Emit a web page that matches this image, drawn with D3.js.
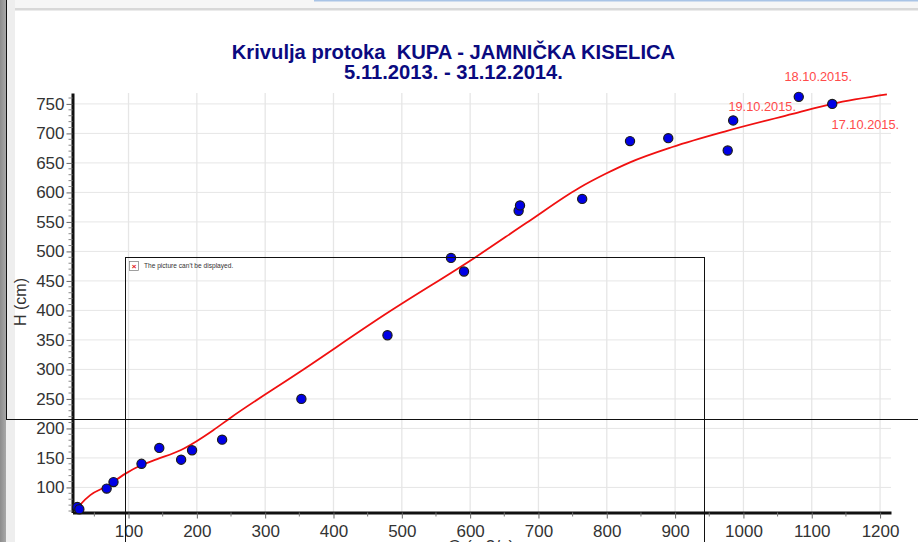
<!DOCTYPE html>
<html>
<head>
<meta charset="utf-8">
<script src="https://cdn.jsdelivr.net/npm/d3@7"></script>
<style>
body { margin: 0; background: #fff; overflow: hidden; }
text { font-family: "Liberation Sans", Arial, sans-serif; }
</style>
</head>
<body>
<div id="chart"></div>
<script>
// rating curve: Q on x, H on y
const pointQ = [25, 28, 68, 78, 119, 145, 177, 193, 237, 353, 479, 572, 591, 671, 673, 764, 834, 890, 977, 985, 1081, 1130];
const pointH = [67, 63, 98, 109, 140, 167, 147, 163, 181, 250, 358, 489, 466, 569, 578, 589, 687, 692, 671, 722, 762, 750];

const curveQ = [26, 32, 44, 68, 95, 119, 142, 176, 199, 224, 248, 351, 478, 609, 682, 760, 799, 834, 896, 975, 1072, 1130, 1210];
const curveH = [65, 74, 87, 102, 123, 138, 148, 163, 178, 197, 217, 296, 395, 491, 548, 608, 632, 651, 677, 704, 733, 750, 766];

const xTicks = [100, 200, 300, 400, 500, 600, 700, 800, 900, 1000, 1100, 1200];
const yTicks = [100, 150, 200, 250, 300, 350, 400, 450, 500, 550, 600, 650, 700, 750];
const xMinor = d3.range(50, 1201, 50);
const yMinor = d3.range(60, 761, 10);

const dateLabels = ["18.10.2015.", "19.10.2015.", "17.10.2015."];
const dateQ = [1060, 978, 1129];
const dateH = [789, 738, 708];

const titleLines = ["Krivulja protoka\u00a0\u00a0KUPA - JAMNIČKA KISELICA", "5.11.2013. - 31.12.2014."];

const width = 918, height = 542;
const plot = { left: 72.5, right: 891, top: 93, bottom: 512.5 };

const svg = d3.select("#chart").append("svg")
    .attr("width", width)
    .attr("height", height)
    .style("display", "block");

// document window behind the chart
const grad = svg.append("defs").append("linearGradient").attr("id", "side");
grad.append("stop").attr("offset", "0%").attr("stop-color", "#8c8c8c");
grad.append("stop").attr("offset", "100%").attr("stop-color", "#a8a8a8");
svg.append("rect").attr("width", 6).attr("height", height).attr("fill", "url(#side)");
svg.append("rect").attr("x", 6).attr("width", width).attr("height", 9).attr("fill", "#f6f6f6");
svg.append("rect").attr("x", 6).attr("width", 9).attr("height", height).attr("fill", "#eeeeee");
svg.append("rect").attr("x", 15).attr("y", 8).attr("width", width).attr("height", 2.5).attr("fill", "#d8d8d8");
svg.append("rect").attr("x", 314).attr("width", width).attr("height", 1.5).attr("fill", "#a9c4e6");

const x = d3.scaleLinear().domain([18, 1216]).range([plot.left, plot.right]);
const y = d3.scaleLinear().domain([57.5, 768.5]).range([plot.bottom, plot.top]);

// grid
svg.append("g").selectAll("line").data(xTicks).join("line")
    .attr("x1", d => x(d)).attr("x2", d => x(d))
    .attr("y1", plot.top).attr("y2", plot.bottom)
    .attr("stroke", "#e6e6e6").attr("stroke-width", 1.3);
svg.append("g").selectAll("line").data(yTicks).join("line")
    .attr("x1", plot.left).attr("x2", plot.right)
    .attr("y1", d => y(d)).attr("y2", d => y(d))
    .attr("stroke", "#e6e6e6").attr("stroke-width", 1);

// axes
const xAxis = svg.append("g").attr("transform", `translate(0,${plot.bottom})`)
    .call(d3.axisBottom(x).tickValues(xTicks).tickSize(6).tickSizeOuter(0).tickPadding(6).tickFormat(d3.format("d")));
const yAxis = svg.append("g").attr("transform", `translate(${plot.left},0)`)
    .call(d3.axisLeft(y).tickValues(yTicks).tickSize(6).tickSizeOuter(0).tickPadding(2).tickFormat(d3.format("d")));

[xAxis, yAxis].forEach(a => {
    a.select(".domain").attr("stroke", "#111").attr("stroke-width", 3);
    a.selectAll(".tick line").attr("stroke", "#666");
    a.selectAll("text").attr("fill", "#333").style("font-size", "17px").style("font-family", '"Liberation Sans", Arial, sans-serif');
});

svg.append("g").selectAll("line").data(xMinor.filter(d => !xTicks.includes(d))).join("line")
    .attr("x1", d => x(d)).attr("x2", d => x(d))
    .attr("y1", plot.bottom).attr("y2", plot.bottom + 4)
    .attr("stroke", "#777");
svg.append("g").selectAll("line").data(yMinor.filter(d => !yTicks.includes(d))).join("line")
    .attr("x1", plot.left - 4).attr("x2", plot.left)
    .attr("y1", d => y(d)).attr("y2", d => y(d))
    .attr("stroke", "#888");

// axis names, the x one runs off the bottom of the window
svg.append("text").attr("x", 481).attr("y", 552)
    .attr("text-anchor", "middle").attr("fill", "#333").style("font-size", "17px")
    .text("Q (m3/s)");
svg.append("text").attr("transform", "translate(26,302) rotate(-90)")
    .attr("text-anchor", "middle").attr("fill", "#333").style("font-size", "16px")
    .text("H (cm)");

// title
svg.append("g").selectAll("text").data(titleLines).join("text")
    .attr("x", 453.5)
    .attr("y", (d, i) => 59 + i * 20)
    .attr("text-anchor", "middle")
    .attr("fill", "#0a0a80")
    .style("font-size", "20.2px").style("font-weight", "bold")
    .text(d => d);

// curve and measured points
const line = d3.line().x(d => x(d[0])).y(d => y(d[1])).curve(d3.curveMonotoneX);
svg.append("path").datum(d3.zip(curveQ, curveH))
    .attr("d", line).attr("fill", "none").attr("stroke", "#f01010").attr("stroke-width", 1.8);

svg.append("g").selectAll("circle").data(d3.zip(pointQ, pointH)).join("circle")
    .attr("cx", d => x(d[0])).attr("cy", d => y(d[1])).attr("r", 4.6)
    .attr("fill", "#0000e6").attr("stroke", "#1a1a1a").attr("stroke-width", 1.2);

svg.append("g").selectAll("text").data(dateLabels).join("text")
    .attr("x", (d, i) => x(dateQ[i]))
    .attr("y", (d, i) => y(dateH[i]))
    .attr("fill", "#ff4a4a").style("font-size", "12.8px")
    .text(d => d);

// broken picture placeholder and its stray lines on top of the chart
const overlay = svg.append("g");
overlay.append("line").attr("x1", 6.5).attr("x2", 6.5).attr("y1", 0).attr("y2", 419)
    .attr("stroke", "#111").attr("stroke-width", 1);
overlay.append("rect").attr("x", 125.5).attr("y", 257.5).attr("width", 579).attr("height", 300)
    .attr("fill", "none").attr("stroke", "#111").attr("stroke-width", 1);
overlay.append("line").attr("x1", 6).attr("x2", width).attr("y1", 419.5).attr("y2", 419.5)
    .attr("stroke", "#111").attr("stroke-width", 1);
overlay.append("rect").attr("x", 129.5).attr("y", 261.5).attr("width", 9).attr("height", 9)
    .attr("fill", "#fff").attr("stroke", "#777").attr("stroke-width", 0.7);
overlay.append("text").attr("x", 134).attr("y", 269).attr("text-anchor", "middle")
    .attr("fill", "#e01010").style("font-size", "8px").style("font-weight", "bold").text("×");
overlay.append("text").attr("x", 144).attr("y", 268)
    .attr("fill", "#333").style("font-size", "6.6px").text("The picture can't be displayed.");
</script>
</body>
</html>
